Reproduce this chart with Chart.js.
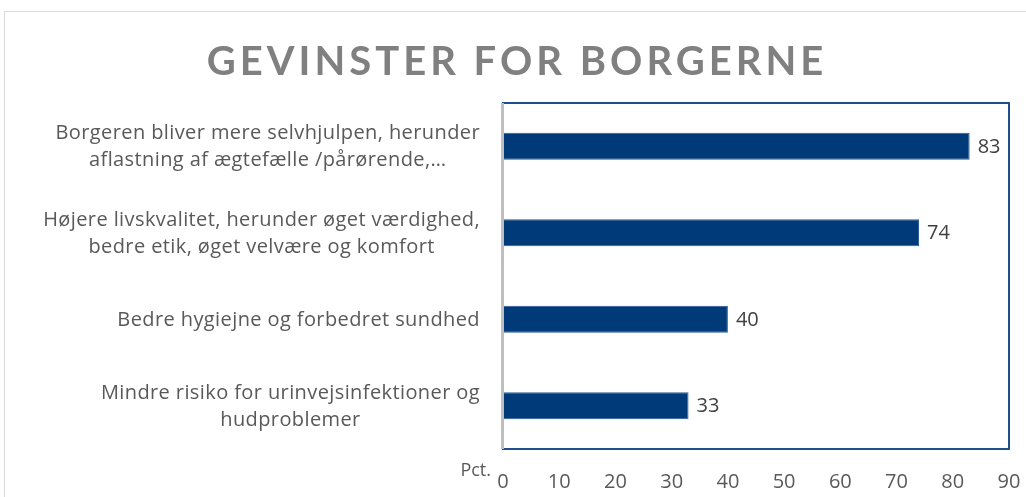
<!DOCTYPE html>
<html>
<head>
<meta charset="utf-8">
<script src="https://cdn.jsdelivr.net/npm/chart.js@4/dist/chart.umd.min.js"></script>
<style>
  html, body { margin: 0; padding: 0; background: #fff; }
  #wrap { position: relative; width: 1026px; height: 497px; overflow: hidden; }
  #frame { position: absolute; left: 4px; top: 11px; width: 1100px; height: 600px;
           border-left: 1px solid #d9d9d9; border-top: 1px solid #d9d9d9; }
  canvas { position: absolute; left: 0; top: 0; }
</style>
</head>
<body>
<div id="wrap">
  <div id="frame"></div>
  <canvas id="benefitChart" width="1026" height="497"></canvas>
</div>
<script>
const chartTitle = "GEVINSTER FOR BORGERNE";
const categories = [
    ["Borgeren bliver mere selvhjulpen, herunder", "aflastning af ægtefælle /pårørende,…"],
    ["Højere livskvalitet, herunder øget værdighed,", "bedre etik, øget velvære og komfort"],
    ["Bedre hygiejne og forbedret sundhed"],
    ["Mindre risiko for urinvejsinfektioner og", "hudproblemer"]
];
const values = [83, 74, 40, 33];
const axisUnit = "Pct.";

const labelFont = "20px 'Open Sans'";
const textGrey = "#595959";

// draws title, frame, category labels and value labels
const decorPlugin = {
    id: "decor",
    afterDatasetsDraw(chart) {
        const ctx = chart.ctx;
        const a = chart.chartArea;
        const yScale = chart.scales.y;
        ctx.save();

        // plot frame
        ctx.strokeStyle = "#1f4e8c";
        ctx.lineWidth = 2;
        ctx.strokeRect(a.left, a.top, a.right - a.left, a.bottom - a.top);
        ctx.strokeStyle = "#bfbfbf";
        ctx.lineWidth = 3;
        ctx.beginPath();
        ctx.moveTo(a.left - 0.5, a.top);
        ctx.lineTo(a.left - 0.5, a.bottom);
        ctx.stroke();

        // value labels
        ctx.font = labelFont;
        ctx.fillStyle = "#404040";
        ctx.textAlign = "left";
        ctx.textBaseline = "middle";
        chart.getDatasetMeta(0).data.forEach((bar, i) => {
            ctx.fillText(values[i], bar.x + 8, bar.y + 1);
        });

        // category labels: block right aligned, lines centered
        ctx.fillStyle = textGrey;
        ctx.textAlign = "center";
        ctx.letterSpacing = "0.4px";
        categories.forEach((lines, i) => {
            const cy = yScale.getPixelForTick(i);
            const w = Math.max(...lines.map(l => ctx.measureText(l).width));
            const cx = a.left - 23 - w / 2;
            lines.forEach((l, j) => {
                ctx.fillText(l, cx, cy + 1 + (j - (lines.length - 1) / 2) * 27);
            });
        });
        ctx.letterSpacing = "0px";

        // unit label
        ctx.font = "18px 'Open Sans'";
        ctx.textAlign = "right";
        ctx.fillText(axisUnit, a.left - 12, a.bottom + 22);

        // title
        ctx.font = "bold 40px Lato";
        ctx.letterSpacing = "4px";
        ctx.fillStyle = "#808080";
        ctx.textAlign = "center";
        ctx.fillText(chartTitle, chart.width / 2 + 4, 62);
        ctx.restore();
    }
};

const ctx = document.getElementById("benefitChart").getContext("2d");
new Chart(ctx, {
    type: "bar",
    data: {
        labels: categories,
        datasets: [{
            data: values,
            backgroundColor: "#003a79",
            borderColor: "#2a5a96",
            borderWidth: 1,
            barPercentage: 0.62,
            categoryPercentage: 0.5
        }]
    },
    options: {
        indexAxis: "y",
        responsive: false,
        animation: false,
        layout: { padding: { left: 503, top: 103, right: 17, bottom: 8 } },
        plugins: {
            legend: { display: false },
            tooltip: { enabled: false }
        },
        scales: {
            x: {
                min: 0,
                max: 90,
                ticks: { stepSize: 10, color: textGrey, font: { family: "Open Sans", size: 20 }, padding: 21 },
                grid: { display: false, drawTicks: false },
                border: { display: false },
                afterFit(scale) {
                    scale.paddingLeft = 0;
                    scale.paddingRight = 0;
                    scale.height = 40;
                }
            },
            y: {
                ticks: { display: false },
                grid: { display: false, drawTicks: false },
                border: { display: false }
            }
        }
    },
    plugins: [decorPlugin]
});
</script>
</body>
</html>
